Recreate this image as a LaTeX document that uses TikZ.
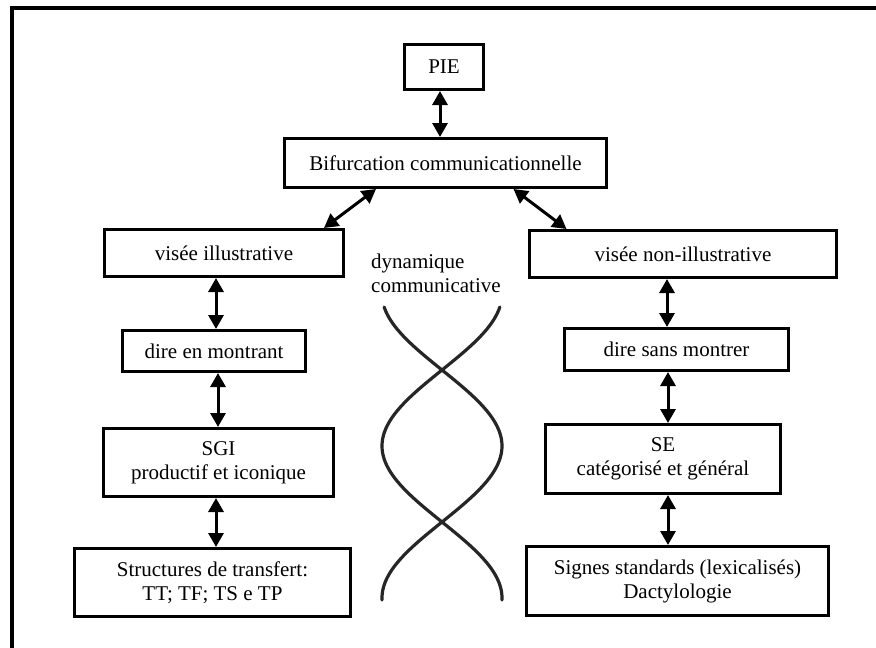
\documentclass[tikz,border=0pt]{standalone}
\usepackage{fontspec}
\setmainfont{Liberation Serif}
\usetikzlibrary{arrows.meta}
\begin{document}
\begin{tikzpicture}[x=1pt,y=-1pt,
  txt/.style={font=\rmfamily\fontsize{21}{24}\selectfont},
  box/.style={txt, draw=black, line width=3pt, fill=white, inner sep=0pt, align=center},
  dar/.style={line width=3pt, {Triangle[length=14pt,width=15pt]}-{Triangle[length=14pt,width=15pt]}},
  strand/.style={draw=black!85, line width=3.2pt, line cap=round}]
\useasboundingbox (0,0) rectangle (876,648);
% frame
\draw[line width=4pt] (12,660) -- (12,8) -- (890,8);
% nodes
\node[box, minimum width=79pt, minimum height=45pt] (pie) at (444,67) {PIE};
\node[box, minimum width=322pt, minimum height=49pt] (bif) at (445.5,163) {Bifurcation communicationnelle};
\node[box, minimum width=239pt, minimum height=47pt] (vil) at (224,253) {visée illustrative};
\node[box, minimum width=183pt, minimum height=41pt] (dem) at (214,351) {dire en montrant};
\node[box, minimum width=230pt, minimum height=68pt] (sgi) at (218.5,462.5) {SGI\\productif et iconique};
\node[box, minimum width=276pt, minimum height=68pt] (str) at (212.5,582.5) {Structures de transfert:\\TT; TF; TS e TP};
\node[box, minimum width=307pt, minimum height=47pt] (vnil) at (683,254) {visée non-illustrative};
\node[box, minimum width=224pt, minimum height=42pt] (dsm) at (676.5,349.5) {dire sans montrer};
\node[box, minimum width=235pt, minimum height=69pt] (se) at (663,459) {SE\\catégorisé et général};
\node[box, minimum width=302pt, minimum height=69pt] (sig) at (677.5,581) {Signes standards (lexicalisés)\\Dactylologie};
\node[txt, align=left, anchor=west, inner sep=0pt] (dyn) at (371,273) {dynamique\\communicative};
% helix
\draw[strand] plot[domain=307:600, samples=120, smooth] ({442+60*sin((\x-370)*1.18421)}, \x);
\draw[strand] plot[domain=307:600, samples=120, smooth] ({442-60*sin((\x-370)*1.18421)}, \x);
% connectors
\draw[dar] ([xshift=-4pt]pie.south) -- ([xshift=-4pt]pie.south |- bif.north);
\draw[dar] ([xshift=93pt]bif.south west) -- ([xshift=-21pt]vil.north east);
\draw[dar] ([xshift=-94.5pt]bif.south east) -- ([xshift=38.5pt]vnil.north west);
\draw[dar] ([xshift=2pt]dem.north |- vil.south) -- ([xshift=2pt]dem.north);
\draw[dar] ([xshift=4pt]dem.south) -- ([xshift=4pt]dem.south |- sgi.north);
\draw[dar] ([xshift=-2.5pt]sgi.south) -- ([xshift=-2.5pt]sgi.south |- str.north);
\draw[dar] ([xshift=-9.5pt]dsm.north |- vnil.south) -- ([xshift=-9.5pt]dsm.north);
\draw[dar] ([xshift=5pt]se.north |- dsm.south) -- ([xshift=5pt]se.north);
\draw[dar] ([xshift=5pt]se.south) -- ([xshift=5pt]se.south |- sig.north);
\end{tikzpicture}
\end{document}
